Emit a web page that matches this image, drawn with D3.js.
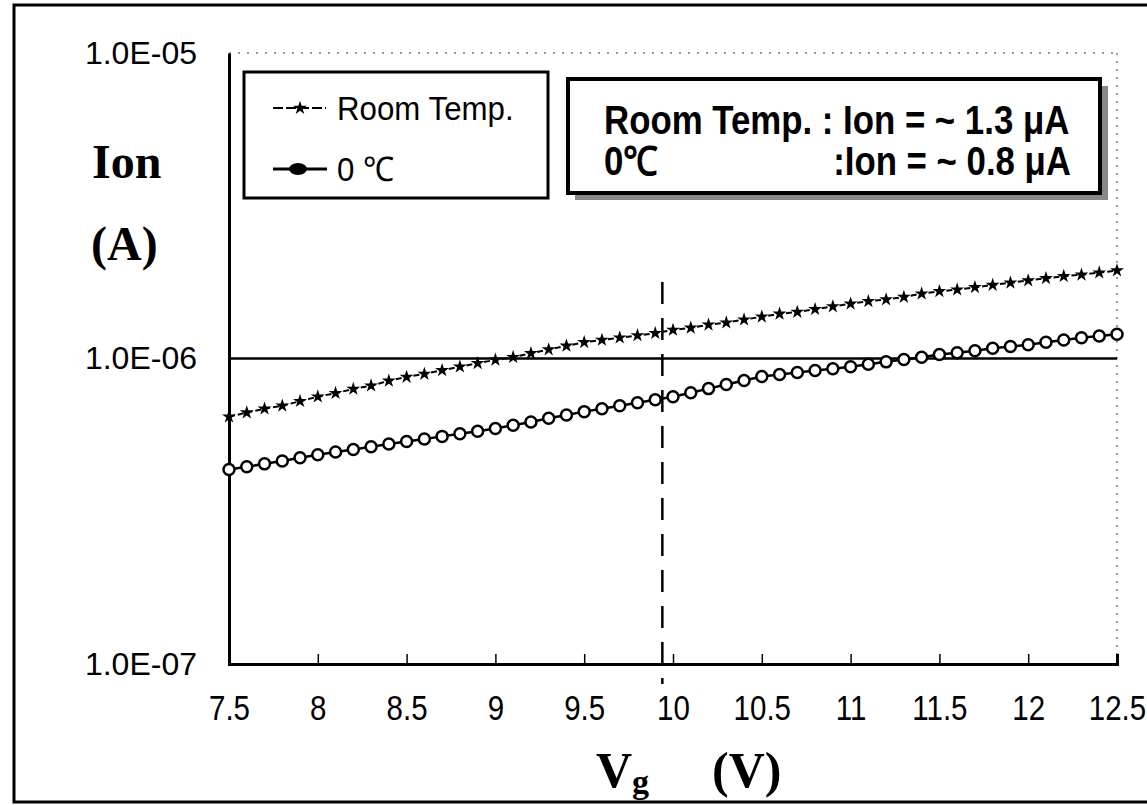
<!DOCTYPE html>
<html>
<head>
<meta charset="utf-8">
<script src="https://cdn.jsdelivr.net/npm/d3@7"></script>
<style>
body { margin: 0; background: #fff; }
svg { display: block; }
.sans { font-family: "Liberation Sans", Arial, sans-serif; }
.serif { font-family: "Liberation Serif", "DejaVu Serif", serif; font-weight: bold; }
</style>
</head>
<body>
<div id="chart"></div>
<script>
// gate voltage, 0.1 V steps
var vg = [7.5, 7.6, 7.7, 7.8, 7.9, 8.0, 8.1, 8.2, 8.3, 8.4,
  8.5, 8.6, 8.7, 8.8, 8.9, 9.0, 9.1, 9.2, 9.3, 9.4,
  9.5, 9.6, 9.7, 9.8, 9.9, 10.0, 10.1, 10.2, 10.3, 10.4,
  10.5, 10.6, 10.7, 10.8, 10.9, 11.0, 11.1, 11.2, 11.3, 11.4,
  11.5, 11.6, 11.7, 11.8, 11.9, 12.0, 12.1, 12.2, 12.3, 12.4, 12.5];

// Ion (A), room temperature
var ionRoom = [6.45e-7, 6.65e-7, 6.85e-7, 7.0e-7, 7.25e-7, 7.5e-7, 7.7e-7, 7.95e-7, 8.15e-7, 8.45e-7,
  8.7e-7, 8.9e-7, 9.15e-7, 9.4e-7, 9.65e-7, 9.9e-7, 1.01e-6, 1.04e-6, 1.07e-6, 1.10e-6,
  1.13e-6, 1.15e-6, 1.17e-6, 1.19e-6, 1.21e-6, 1.24e-6, 1.26e-6, 1.29e-6, 1.31e-6, 1.34e-6,
  1.37e-6, 1.40e-6, 1.42e-6, 1.45e-6, 1.48e-6, 1.51e-6, 1.54e-6, 1.56e-6, 1.59e-6, 1.63e-6,
  1.66e-6, 1.68e-6, 1.71e-6, 1.74e-6, 1.77e-6, 1.80e-6, 1.83e-6, 1.86e-6, 1.88e-6, 1.91e-6, 1.94e-6];

// Ion (A), 0 C
var ionZero = [4.33e-7, 4.42e-7, 4.52e-7, 4.62e-7, 4.73e-7, 4.84e-7, 4.94e-7, 5.04e-7, 5.14e-7, 5.25e-7,
  5.35e-7, 5.45e-7, 5.56e-7, 5.67e-7, 5.78e-7, 5.90e-7, 6.05e-7, 6.20e-7, 6.37e-7, 6.53e-7,
  6.70e-7, 6.85e-7, 7.00e-7, 7.16e-7, 7.33e-7, 7.50e-7, 7.73e-7, 7.97e-7, 8.22e-7, 8.47e-7,
  8.73e-7, 8.86e-7, 9.00e-7, 9.13e-7, 9.26e-7, 9.40e-7, 9.57e-7, 9.75e-7, 9.93e-7, 1.01e-6,
  1.03e-6, 1.045e-6, 1.06e-6, 1.08e-6, 1.095e-6, 1.11e-6, 1.13e-6, 1.15e-6, 1.17e-6, 1.185e-6, 1.20e-6];

var xTicks = [7.5, 8, 8.5, 9, 9.5, 10, 10.5, 11, 11.5, 12, 12.5];
var yTicks = [1e-7, 1e-6, 1e-5];
var yTickLabels = ["1.0E-07", "1.0E-06", "1.0E-05"];
var legendNames = ["Room Temp.", "0 \u2103"];
var noteLeft = ["Room Temp. : Ion = ~ 1.3 \u03bcA", "0\u2103"];
var noteRight = ["", ":Ion = ~ 0.8 \u03bcA"];
var markerV = 9.94;

var width = 1147, height = 805;
var svg = d3.select("#chart").append("svg")
  .attr("width", width)
  .attr("height", height);

var x = d3.scaleLinear().domain([7.5, 12.5]).range([229, 1117]);
var y = d3.scaleLog().domain([1e-7, 1e-5]).range([664, 53]);

// outer frame
svg.append("rect")
  .attr("x", 14).attr("y", 5)
  .attr("width", 1150).attr("height", 797)
  .attr("fill", "none").attr("stroke", "#000").attr("stroke-width", 3);

// dotted top and right edges of plot area
svg.append("line")
  .attr("x1", x(7.5)).attr("x2", x(12.5)).attr("y1", y(1e-5)).attr("y2", y(1e-5))
  .attr("stroke", "#777").attr("stroke-width", 1.5).attr("stroke-dasharray", "2,7");
svg.append("line")
  .attr("x1", x(12.5)).attr("x2", x(12.5)).attr("y1", y(1e-5)).attr("y2", y(1e-7))
  .attr("stroke", "#777").attr("stroke-width", 1.5).attr("stroke-dasharray", "2,6");

// grid line at 1e-6
svg.append("line")
  .attr("x1", x(7.5)).attr("x2", x(12.5)).attr("y1", y(1e-6)).attr("y2", y(1e-6))
  .attr("stroke", "#000").attr("stroke-width", 2.5);

// axes
var xAxis = d3.axisBottom(x).tickValues(xTicks).tickSize(-10).tickPadding(30)
  .tickFormat(d3.format("~g"));
var gx = svg.append("g")
  .attr("transform", "translate(0," + y(1e-7) + ")")
  .call(xAxis);
gx.select(".domain").attr("stroke-width", 3);
gx.selectAll(".tick line").attr("stroke-width", 1.5);
gx.selectAll("text").attr("class", "sans").attr("font-size", 36).attr("fill", "#000")
  .attr("transform", "scale(0.82,1)");

var yAxis = d3.axisLeft(y).tickValues(yTicks).tickSize(0).tickPadding(32)
  .tickFormat(function(d, i) { return yTickLabels[i]; });
var gy = svg.append("g")
  .attr("transform", "translate(" + x(7.5) + ",0)")
  .call(yAxis);
gy.select(".domain").attr("stroke-width", 3);
gy.selectAll("text").attr("class", "sans").attr("font-size", 32).attr("fill", "#000");

// vertical dashed marker
svg.append("line")
  .attr("x1", x(markerV)).attr("x2", x(markerV))
  .attr("y1", 282).attr("y2", 684)
  .attr("stroke", "#000").attr("stroke-width", 2.5).attr("stroke-dasharray", "22,14");

// series
var line = d3.line()
  .x(function(d, i) { return x(vg[i]); })
  .y(function(d) { return y(d); });

svg.append("path")
  .attr("d", line(ionRoom))
  .attr("fill", "none").attr("stroke", "#000").attr("stroke-width", 2)
  .attr("stroke-dasharray", "6,3");

var star = d3.symbol().type(d3.symbolStar).size(60);
svg.selectAll(".mroom")
  .data(ionRoom)
  .enter().append("path")
  .attr("class", "mroom")
  .attr("d", star)
  .attr("transform", function(d, i) { return "translate(" + x(vg[i]) + "," + y(d) + ")"; })
  .attr("fill", "#000");

svg.append("path")
  .attr("d", line(ionZero))
  .attr("fill", "none").attr("stroke", "#000").attr("stroke-width", 2.5);

svg.selectAll(".mzero")
  .data(ionZero)
  .enter().append("circle")
  .attr("class", "mzero")
  .attr("cx", function(d, i) { return x(vg[i]); })
  .attr("cy", function(d) { return y(d); })
  .attr("r", 5.5)
  .attr("fill", "#fff").attr("stroke", "#000").attr("stroke-width", 2.5);

// axis titles
svg.append("text").attr("class", "serif")
  .attr("x", 92).attr("y", 178).attr("font-size", 48).text("Ion");
svg.append("text").attr("class", "serif")
  .attr("x", 91).attr("y", 260).attr("font-size", 48).text("(A)");
var xt = svg.append("text").attr("class", "serif")
  .attr("x", 596).attr("y", 787).attr("font-size", 50);
xt.append("tspan").text("V");
xt.append("tspan").attr("font-size", 34).attr("dy", 6).text("g");
svg.append("text").attr("class", "serif")
  .attr("x", 712).attr("y", 787).attr("font-size", 50).text("(V)");

// legend
var leg = svg.append("g");
leg.append("rect")
  .attr("x", 244).attr("y", 72).attr("width", 304).attr("height", 126)
  .attr("fill", "#fff").attr("stroke", "#000").attr("stroke-width", 3);
var legY = [108, 169];
leg.append("line").attr("x1", 273).attr("x2", 326).attr("y1", legY[0]).attr("y2", legY[0])
  .attr("stroke", "#000").attr("stroke-width", 2).attr("stroke-dasharray", "10,3");
leg.append("path").attr("d", star)
  .attr("transform", "translate(300," + legY[0] + ")").attr("fill", "#000");
leg.append("line").attr("x1", 273).attr("x2", 327).attr("y1", legY[1]).attr("y2", legY[1])
  .attr("stroke", "#000").attr("stroke-width", 3);
leg.append("ellipse").attr("cx", 298).attr("cy", legY[1]).attr("rx", 9).attr("ry", 6)
  .attr("fill", "#000");
leg.selectAll(".lt")
  .data(legendNames)
  .enter().append("text")
  .attr("class", "sans")
  .attr("transform", function(d, i) { return "translate(337," + (legY[i] + 12) + ") scale(0.92,1)"; })
  .attr("font-size", 34)
  .text(function(d) { return d; });

// note box with shadow
var note = svg.append("g");
note.append("rect")
  .attr("x", 575).attr("y", 86).attr("width", 533).attr("height", 114)
  .attr("fill", "#888");
note.append("rect")
  .attr("x", 568).attr("y", 79).attr("width", 532).attr("height", 114)
  .attr("fill", "#fff").attr("stroke", "#000").attr("stroke-width", 4);
var noteY = [134, 175];
note.selectAll(".nl")
  .data(noteLeft)
  .enter().append("text")
  .attr("class", "sans")
  .attr("font-weight", "bold")
  .attr("transform", function(d, i) { return "translate(604," + noteY[i] + ") scale(0.87,1)"; })
  .attr("font-size", 40)
  .text(function(d) { return d; });
note.selectAll(".nr")
  .data(noteRight)
  .enter().append("text")
  .attr("class", "sans")
  .attr("font-weight", "bold")
  .attr("text-anchor", "end")
  .attr("transform", function(d, i) { return "translate(1071," + noteY[i] + ") scale(0.87,1)"; })
  .attr("font-size", 40)
  .text(function(d) { return d; });
</script>
</body>
</html>
